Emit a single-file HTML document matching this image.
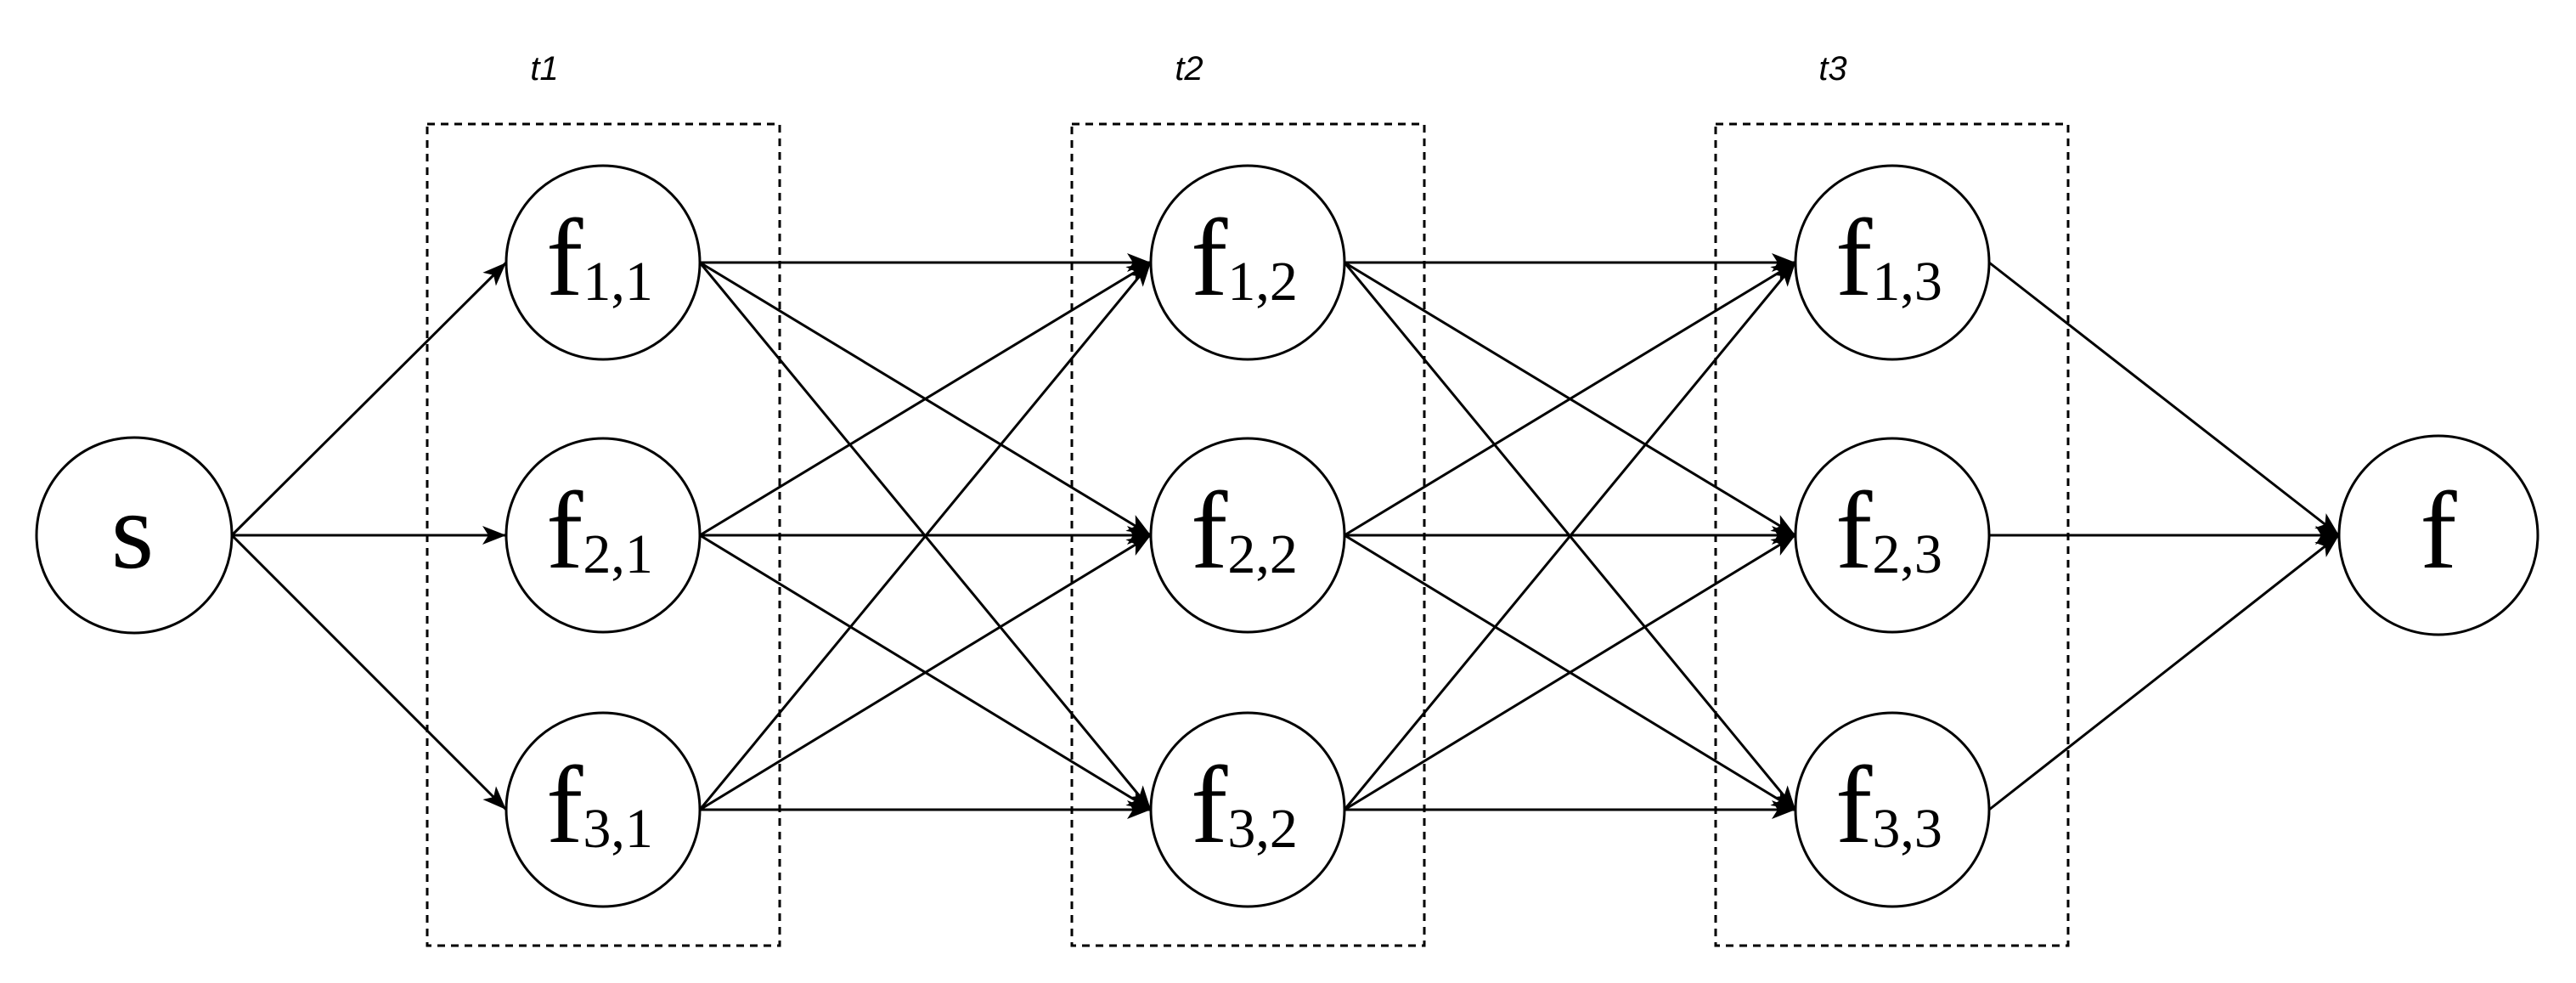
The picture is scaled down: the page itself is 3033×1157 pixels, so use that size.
<!DOCTYPE html>
<html><head><meta charset="utf-8"><style>html,body{margin:0;padding:0;background:#fff}svg{display:block}</style></head>
<body>
<svg width="3033" height="1157" viewBox="0 0 3033 1157" xmlns="http://www.w3.org/2000/svg">
<defs>
<marker id="a" markerUnits="userSpaceOnUse" markerWidth="30" markerHeight="24" refX="28" refY="12" orient="auto">
<path d="M0,1 L28,12 L0,23 L7,12 Z" fill="#000"/>
</marker>
</defs>
<g fill="none" stroke="#000" stroke-width="3" stroke-dasharray="9,7">
<rect x="503" y="146" width="415" height="967"/>
<rect x="1262" y="146" width="415" height="967"/>
<rect x="2020" y="146" width="415" height="967"/>
</g>
<g font-family="Liberation Sans, sans-serif" font-style="italic" font-size="40" fill="#000" text-anchor="middle">
<text x="641" y="94">t1</text>
<text x="1400" y="94">t2</text>
<text x="2158" y="94">t3</text>
</g>
<g stroke="#000" stroke-width="3" fill="none" marker-end="url(#a)">
<line x1="273" y1="630" x2="596" y2="309"/>
<line x1="273" y1="630" x2="596" y2="630"/>
<line x1="273" y1="630" x2="596" y2="953"/>
<!-- col1 -> col2 -->
<line x1="824" y1="309" x2="1355" y2="309"/>
<line x1="824" y1="309" x2="1355" y2="630"/>
<line x1="824" y1="309" x2="1355" y2="953"/>
<line x1="824" y1="630" x2="1355" y2="309"/>
<line x1="824" y1="630" x2="1355" y2="630"/>
<line x1="824" y1="630" x2="1355" y2="953"/>
<line x1="824" y1="953" x2="1355" y2="309"/>
<line x1="824" y1="953" x2="1355" y2="630"/>
<line x1="824" y1="953" x2="1355" y2="953"/>
<!-- col2 -> col3 -->
<line x1="1583" y1="309" x2="2114" y2="309"/>
<line x1="1583" y1="309" x2="2114" y2="630"/>
<line x1="1583" y1="309" x2="2114" y2="953"/>
<line x1="1583" y1="630" x2="2114" y2="309"/>
<line x1="1583" y1="630" x2="2114" y2="630"/>
<line x1="1583" y1="630" x2="2114" y2="953"/>
<line x1="1583" y1="953" x2="2114" y2="309"/>
<line x1="1583" y1="953" x2="2114" y2="630"/>
<line x1="1583" y1="953" x2="2114" y2="953"/>
<!-- col3 -> f -->
<line x1="2342" y1="309" x2="2754" y2="630"/>
<line x1="2342" y1="630" x2="2754" y2="630"/>
<line x1="2342" y1="953" x2="2754" y2="630"/>
</g>
<g fill="#fff" stroke="#000" stroke-width="3">
<circle cx="158" cy="630" r="115"/>
<circle cx="710" cy="309" r="114"/><circle cx="710" cy="630" r="114"/><circle cx="710" cy="953" r="114"/>
<circle cx="1469" cy="309" r="114"/><circle cx="1469" cy="630" r="114"/><circle cx="1469" cy="953" r="114"/>
<circle cx="2228" cy="309" r="114"/><circle cx="2228" cy="630" r="114"/><circle cx="2228" cy="953" r="114"/>
<circle cx="2871" cy="630" r="117"/>
</g>
<g font-family="Liberation Serif, serif" fill="#000" text-anchor="middle" font-size="130">
<text x="156" y="668">s</text>
<text x="2871" y="668">f</text>
<text x="706" y="347">f<tspan font-size="66" dy="6">1,1</tspan></text>
<text x="706" y="668">f<tspan font-size="66" dy="6">2,1</tspan></text>
<text x="706" y="991">f<tspan font-size="66" dy="6">3,1</tspan></text>
<text x="1465" y="347">f<tspan font-size="66" dy="6">1,2</tspan></text>
<text x="1465" y="668">f<tspan font-size="66" dy="6">2,2</tspan></text>
<text x="1465" y="991">f<tspan font-size="66" dy="6">3,2</tspan></text>
<text x="2224" y="347">f<tspan font-size="66" dy="6">1,3</tspan></text>
<text x="2224" y="668">f<tspan font-size="66" dy="6">2,3</tspan></text>
<text x="2224" y="991">f<tspan font-size="66" dy="6">3,3</tspan></text>
</g>
</svg>
</body></html>
